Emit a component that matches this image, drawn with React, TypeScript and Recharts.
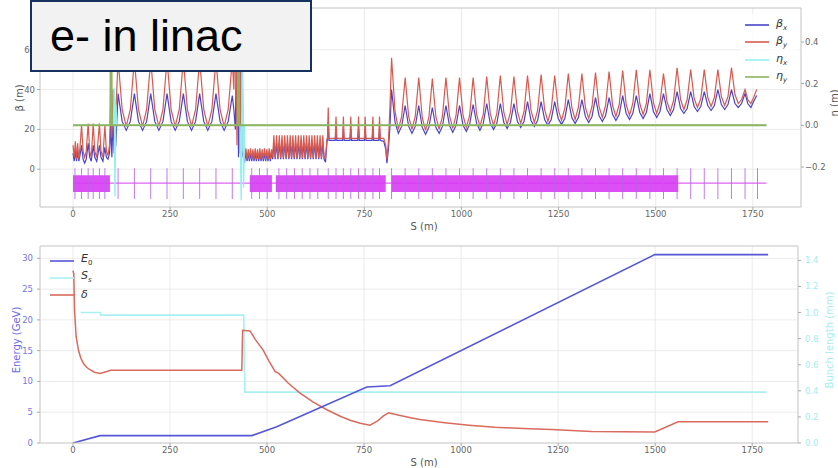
import React from 'react';
import { LineChart, Line, XAxis, YAxis, CartesianGrid, ReferenceArea, ReferenceLine, Legend } from 'recharts';

// ---------- axis ticks ----------
const sTicks = [0, 250, 500, 750, 1000, 1250, 1500, 1750];
const betaTicks = [0, 20, 40, 60];
const etaTicks = [-0.2, 0, 0.2, 0.4];
const energyTicks = [0, 5, 10, 15, 20, 25, 30];
const lengthTicks = [0, 0.2, 0.4, 0.6, 0.8, 1.0, 1.2, 1.4];

// ---------- top panel: beta functions [s (m), beta_x, beta_y] ----------
const betaRows: number[][] = [
  [0, 8, 12], [3, 4, 6], [6, 9, 14], [9, 4, 5], [12, 9, 13], [15, 4, 5], [18, 7, 11],
  [22, 12, 22], [26, 5, 9], [30, 3, 6], [34, 5, 9], [39, 13, 23], [43, 6, 9], [47, 4, 6],
  [52, 12, 23], [56, 6, 9], [61, 4, 6], [68, 12, 23], [72, 6, 9], [77, 4, 6], [82, 11, 22],
  [86, 6, 9], [90, 5, 7], [94, 8, 12], [97, 22, 34], [100, 6, 16], [103, 26, 40], [106, 8, 22],
  [110, 12, 28], [116, 38, 55],
  [126.5, 24, 30], [137, 19.5, 21.5], [147.5, 24, 30], [158, 38, 55],
  [168.5, 24, 30], [179, 19.5, 21.5], [189.5, 24, 30], [200, 38, 55],
  [210.5, 24, 30], [221, 19.5, 21.5], [231.5, 24, 30], [242, 38, 55],
  [252.5, 24, 30], [263, 19.5, 21.5], [273.5, 24, 30], [284, 38, 55],
  [294.5, 24, 30], [305, 19.5, 21.5], [315.5, 24, 30], [326, 38, 55],
  [336.5, 24, 30], [347, 19.5, 21.5], [357.5, 24, 30], [368, 38, 55],
  [378.5, 24, 30], [389, 19.5, 21.5], [399.5, 24, 30], [410, 37, 55],
  [414, 30, 40], [418, 20, 85], [422, 85, 12], [426, 6, 85], [430, 85, 8], [434, 10, 85],
  [438, 6, 10], [442, 4, 6],
  [445, 8, 10.5], [448, 4, 5], [451, 8, 10], [454, 4, 5], [457, 8, 10.5], [460, 4, 5],
  [463, 8, 10], [466, 4, 5], [469, 8, 10.5], [472, 4, 5], [475, 8, 10], [478, 4, 5],
  [481, 8, 10.5], [484, 4, 5], [487, 8, 10], [490, 4, 5], [493, 8, 10.5], [496, 4, 5],
  [499, 8, 10], [502, 4, 5], [505, 8, 10.5], [508, 4, 5], [511, 8, 10], [514, 5, 6],
  [517, 13, 17], [520.5, 5, 5.5], [524, 13, 17], [527.5, 5, 5.5], [531, 13, 17], [534.5, 5, 5.5],
  [538, 13, 17], [541.5, 5, 5.5], [545, 13, 17], [548.5, 5, 5.5], [552, 13, 17], [555.5, 5, 5.5],
  [559, 13, 17], [562.5, 5, 5.5], [566, 13, 17], [569.5, 5, 5.5], [573, 13, 17], [576.5, 5, 5.5],
  [580, 13, 17], [583.5, 5, 5.5], [587, 13, 17], [590.5, 5, 5.5], [594, 13, 17], [597.5, 5, 5.5],
  [601, 13, 17], [604.5, 5, 5.5], [608, 13, 17], [611.5, 5, 5.5], [615, 13, 17], [618.5, 5, 5.5],
  [622, 13, 17], [625.5, 5, 5.5], [629, 13, 17], [632.5, 5, 5.5], [636, 13, 17], [639.5, 5, 5.5],
  [643, 13, 17], [646.5, 5, 5.5], [650, 3.5, 6], [654, 14.5, 15.5],
  [655, 14.5, 15.5], [657, 24, 31], [659, 14.5, 15.5],
  [675, 14.5, 15.5], [677, 20, 26.5], [679, 14.5, 15.5],
  [694, 14.5, 15.5], [696, 20, 26.5], [698, 14.5, 15.5],
  [713, 14.5, 15.5], [715, 20, 26.5], [717, 14.5, 15.5],
  [733, 14.5, 15.5], [735, 20, 26.5], [737, 14.5, 15.5],
  [750, 14.5, 15.5], [752, 20, 26.5], [754, 14.5, 15.5],
  [770, 14.5, 15.5], [772, 20, 26.5], [774, 14.5, 15.5],
  [787, 14.5, 15.5], [789, 20, 26.5], [791, 14.5, 15.5],
  [800, 14, 15.5], [805, 10, 12], [808, 3, 5], [812, 10, 14], [816, 22, 32], [820, 40, 56],
  [829, 23.5, 29], [837.5, 18, 20], [846, 21.5, 26.5], [855, 32, 46],
  [864, 21.5, 26.5], [872.5, 18, 20], [881, 21.5, 26.5], [890, 32, 46],
  [899, 21, 26], [907.5, 17.5, 19.5], [916, 21, 26], [925, 31, 45.5],
  [934, 21, 26.5], [942.5, 18, 20], [951, 21.5, 26.5], [960, 32, 46],
  [969, 22, 27], [977.5, 18.5, 20.5], [986, 22, 27], [995, 32, 46],
  [1004, 22, 27], [1012.5, 19, 21], [1021, 22.5, 27], [1030, 32.5, 46],
  [1039, 23, 27.5], [1047.5, 19.5, 21.5], [1056, 23, 27.5], [1065, 33, 46.5],
  [1074, 23, 28], [1082.5, 20, 22], [1091, 23, 28], [1100, 33, 47],
  [1109, 23.5, 28.5], [1117.5, 20.5, 22.5], [1126, 23.5, 28.5], [1135, 33, 46.5],
  [1144, 24, 29], [1152.5, 21, 23], [1161, 24, 29], [1170, 34, 47],
  [1179, 24.5, 29.5], [1187.5, 21.5, 23.5], [1196, 24.5, 29.5], [1205, 34, 47.5],
  [1214, 25, 30], [1222.5, 22, 24], [1231, 25, 30], [1240, 34, 47],
  [1249, 25.5, 30], [1257.5, 22.5, 24.5], [1266, 25.5, 30.5], [1275, 35, 48],
  [1284, 26, 31], [1292.5, 23, 25], [1301, 26, 31], [1310, 35, 48],
  [1319, 26.5, 31], [1327.5, 23.5, 25.5], [1336, 26.5, 31.5], [1345, 36, 48.5],
  [1354, 27, 31.5], [1362.5, 24, 26], [1371, 27, 32], [1380, 36, 49],
  [1389, 27.5, 32], [1397.5, 24.5, 26.5], [1406, 27.5, 32.5], [1415, 37, 49.5],
  [1424, 28, 32.5], [1432.5, 25, 27], [1441, 28, 33], [1450, 37, 50],
  [1459, 28.5, 33], [1467.5, 25.5, 27.5], [1476, 28.5, 33], [1485, 38, 50],
  [1494, 29, 33.5], [1502.5, 26, 28], [1511, 29, 33.5], [1520, 38, 48],
  [1529, 30, 34], [1537.5, 27, 29], [1546, 30, 34.5], [1555, 39, 51],
  [1564, 30.5, 35], [1572.5, 28, 30], [1581, 30.5, 35], [1590, 39, 50],
  [1599, 31.5, 35.5], [1607.5, 29, 31], [1616, 31.5, 35.5], [1625, 39, 50],
  [1634, 32, 36], [1642.5, 29.5, 31.5], [1651, 32, 36], [1660, 40, 50],
  [1669, 32.5, 36.5], [1677.5, 30, 32], [1686, 32.5, 36.5], [1695, 40, 51],
  [1704, 33, 37.5], [1712.5, 31, 33], [1721, 33, 35], [1730, 38, 40],
  [1737, 33, 35], [1745, 31, 33], [1752, 34, 36], [1760, 37, 40],
];

// dispersion [s, eta]
const etaXRows: number[][] = [
  [0, 0], [104, 0], [106, 0.18], [108, -0.34], [110, 0.1], [113, 0],
  [430, 0], [433, -0.36], [436, 0.5], [439, -0.3], [442, 0], [1785, 0],
];
const etaYRows: number[][] = [
  [0, 0], [96, 0], [98, 0.62], [100, 0],
  [424, 0], [426, 0.62], [428, 0], [1785, 0],
];

// lattice elements
const latticeBlocks: number[][] = [[0, 95], [455, 512], [522, 805], [820, 1558]];
const quadPositions = [
  5, 22, 39, 52, 68, 82,
  116, 158, 200, 242, 284, 326, 368, 410,
  460, 480, 500, 530, 550, 570, 590, 610, 630,
  657, 677, 696, 715, 735, 752, 772, 789,
  820, 855, 890, 925, 960, 995, 1030, 1065, 1100, 1135, 1170, 1205, 1240, 1275,
  1310, 1345, 1380, 1415, 1450, 1485, 1520, 1555,
  1590, 1625, 1660, 1695, 1730, 1762,
];
const latticeSpan = [0, 1785];

// ---------- bottom panel ----------
const energyRows: number[][] = [
  [0, 0], [70, 1.2], [461, 1.2], [525, 2.65], [757, 9.1], [817, 9.3], [1499, 30.6], [1791, 30.6],
];
const lengthRows: number[][] = [
  [20, 1.0], [70, 1.0], [72, 0.98], [440, 0.98], [443, 0.39], [1786, 0.39],
];
const deltaRows: number[][] = [
  [0, 28], [2, 27.5], [4, 21.5], [8, 17.3], [14, 15.1], [20, 13.8], [27, 12.9], [35, 12.3],
  [44, 11.9], [55, 11.5], [70, 11.3], [87, 11.6], [97, 11.8], [435, 11.8], [437, 18.3],
  [456, 18.2], [470, 16.8], [490, 15.1], [505, 13.3], [521, 11.6], [530, 11.3], [555, 9.7],
  [585, 8.1], [620, 6.6], [654, 5.4], [690, 4.3], [714, 3.7], [740, 3.2], [765, 2.9],
  [785, 3.6], [800, 4.4], [813, 4.9], [840, 4.5], [870, 4.1], [894, 3.8], [958, 3.3],
  [1020, 2.9], [1087, 2.55], [1160, 2.35], [1233, 2.2], [1336, 1.85], [1499, 1.8],
  [1559, 3.46], [1791, 3.46],
];

const betaData = betaRows.map(([s, bx, by]) => ({ s, bx, by }));
const etaXData = etaXRows.map(([s, v]) => ({ s, v }));
const etaYData = etaYRows.map(([s, v]) => ({ s, v }));
const energyData = energyRows.map(([s, v]) => ({ s, v }));
const lengthData = lengthRows.map(([s, v]) => ({ s, v }));
const deltaData = deltaRows.map(([s, v]) => ({ s, v }));

// ---------- styles ----------
const FONT = '"DejaVu Sans", Verdana, sans-serif';
const BX = '#4a44c8';
const BY = '#d65a50';
const EX = '#93f0f0';
const EY = '#8fb35f';
const MAG = '#d83cf4';
const QUAD = '#b465e6';
const E0C = '#5656d8';
const SSC = '#a9f0f0';
const DC = '#da6a5e';
const GRID = '#e6e6e6';
const FRAME = '#cccccc';

const fmtSigned = (v: number) => (v < 0 ? '\u2212' + Math.abs(v).toFixed(1) : v.toFixed(1));

const topLegend = [
  { sym: '\u03b2', sub: 'x', color: BX },
  { sym: '\u03b2', sub: 'y', color: BY },
  { sym: '\u03b7', sub: 'x', color: EX },
  { sym: '\u03b7', sub: 'y', color: EY },
];
const bottomLegend = [
  { sym: 'E', sub: '0', color: E0C },
  { sym: 'S', sub: 's', color: SSC },
  { sym: '\u03b4', sub: '', color: DC },
];

type Item = { sym: string; sub: string; color: string };
const LegendBox = ({ items, gap, bg }: { items: Item[]; gap: number; bg: string }) => (
  <div style={{ background: bg, padding: '2px 3px', fontFamily: FONT }}>
    {items.map((it, i) => (
      <div key={i} style={{ display: 'flex', alignItems: 'center', height: gap }}>
        <svg width={26} height={6} style={{ marginRight: 6 }}>
          <line x1={1} y1={3} x2={25} y2={3} stroke={it.color} strokeWidth={1.6} />
        </svg>
        <span style={{ fontSize: 11, fontStyle: 'italic', color: '#333', lineHeight: 1 }}>
          {it.sym}
          {it.sub ? <sub style={{ fontSize: 7, fontStyle: it.sub === '0' ? 'normal' : 'italic' }}>{it.sub}</sub> : null}
        </span>
      </div>
    ))}
  </div>
);

const vLabel = (text: string, cx: number, cy: number, color: string, size = 10) => (
  <div
    style={{
      position: 'absolute', left: cx, top: cy, transform: 'translate(-50%, -50%) rotate(-90deg)',
      whiteSpace: 'nowrap', fontSize: size, color, fontFamily: FONT,
    }}
  >
    {text}
  </div>
);

const hLabel = (text: string, cx: number, cy: number, color: string, size = 10) => (
  <div
    style={{
      position: 'absolute', left: cx, top: cy, transform: 'translate(-50%, -50%)',
      whiteSpace: 'nowrap', fontSize: size, color, fontFamily: FONT,
    }}
  >
    {text}
  </div>
);

export default function App() {
  const tick = { fontSize: 8.5, fill: '#666' };
  return (
    <div style={{ position: 'absolute', left: 0, top: 0, width: 838, height: 468, background: '#fff', fontFamily: FONT, overflow: 'hidden' }}>
      {/* top panel */}
      <div style={{ position: 'absolute', left: 0, top: 0 }}>
        <LineChart width={838} height={238} margin={{ top: 8, right: 0, bottom: 0, left: 0 }}>
          <CartesianGrid yAxisId="beta" stroke={GRID} strokeWidth={0.8} />
          <XAxis dataKey="s" type="number" domain={[-85, 1874]} ticks={sTicks} allowDataOverflow height={31}
            tickSize={3} tickMargin={1} tick={tick} axisLine={{ stroke: FRAME }} tickLine={{ stroke: '#aaa' }} />
          <YAxis yAxisId="beta" domain={[-19, 81]} ticks={betaTicks} allowDataOverflow width={40}
            tickSize={3} tickMargin={2} tick={tick} axisLine={{ stroke: FRAME }} tickLine={{ stroke: '#aaa' }} />
          <YAxis yAxisId="eta" orientation="right" domain={[-0.392, 0.563]} ticks={etaTicks} allowDataOverflow width={37}
            tickSize={3} tickMargin={1} tick={tick} tickFormatter={fmtSigned} axisLine={{ stroke: FRAME }} tickLine={{ stroke: '#aaa' }} />
          <ReferenceLine yAxisId="beta" y={81} stroke={FRAME} />
          {latticeBlocks.map(([a, b], i) => (
            <ReferenceArea key={'blk' + i} yAxisId="beta" x1={a} x2={b} y1={-3} y2={-11.5} fill={MAG} fillOpacity={0.9} stroke="none" />
          ))}
          <ReferenceLine yAxisId="beta" segment={[{ x: latticeSpan[0], y: -7 }, { x: latticeSpan[1], y: -7 }]} stroke={MAG} strokeWidth={1} />
          {quadPositions.map((s, i) => (
            <ReferenceLine key={'q' + i} yAxisId="beta" segment={[{ x: s, y: 0.5 }, { x: s, y: -15 }]} stroke={QUAD} strokeWidth={1} strokeOpacity={0.85} />
          ))}
          <Line yAxisId="beta" data={betaData} dataKey="bx" type="linear" stroke={BX} strokeWidth={1.2} dot={false} activeDot={false} isAnimationActive={false} />
          <Line yAxisId="beta" data={betaData} dataKey="by" type="linear" stroke={BY} strokeWidth={1.2} dot={false} activeDot={false} isAnimationActive={false} />
          <Line yAxisId="eta" data={etaXData} dataKey="v" type="linear" stroke={EX} strokeWidth={1.4} dot={false} activeDot={false} isAnimationActive={false} />
          <Line yAxisId="eta" data={etaYData} dataKey="v" type="linear" stroke={EY} strokeWidth={2} dot={false} activeDot={false} isAnimationActive={false} />
          <Legend layout="vertical" align="center" verticalAlign="middle"
            wrapperStyle={{ left: 741, top: 14, width: 58 }}
            content={() => <LegendBox items={topLegend} gap={17.5} bg="rgba(255,255,255,0.8)" />} />
        </LineChart>
      </div>

      {/* bottom panel */}
      <div style={{ position: 'absolute', left: 0, top: 238 }}>
        <LineChart width={838} height={230} margin={{ top: 8, right: 0, bottom: 0, left: 0 }}>
          <CartesianGrid yAxisId="E" stroke={GRID} strokeWidth={0.8} />
          <XAxis dataKey="s" type="number" domain={[-85, 1868]} ticks={sTicks} allowDataOverflow height={25}
            tickSize={3} tickMargin={1} tick={tick} axisLine={{ stroke: FRAME }} tickLine={{ stroke: '#aaa' }} />
          <YAxis yAxisId="E" domain={[0, 32]} ticks={energyTicks} allowDataOverflow width={40}
            tickSize={3} tickMargin={4} tick={{ fontSize: 8.5, fill: '#7676e2' }} axisLine={{ stroke: FRAME }} tickLine={{ stroke: '#aaa' }} />
          <YAxis yAxisId="L" orientation="right" domain={[0, 1.51]} ticks={lengthTicks} allowDataOverflow width={40}
            tickSize={3} tickMargin={4} tick={{ fontSize: 8.5, fill: '#a6ecec' }} tickFormatter={(v: number) => v.toFixed(1)}
            axisLine={{ stroke: FRAME }} tickLine={{ stroke: '#aaa' }} />
          <ReferenceLine yAxisId="E" y={32} stroke={FRAME} />
          <Line yAxisId="L" data={lengthData} dataKey="v" type="linear" stroke={SSC} strokeWidth={1.6} dot={false} activeDot={false} isAnimationActive={false} />
          <Line yAxisId="E" data={deltaData} dataKey="v" type="linear" stroke={DC} strokeWidth={1.5} dot={false} activeDot={false} isAnimationActive={false} />
          <Line yAxisId="E" data={energyData} dataKey="v" type="linear" stroke={E0C} strokeWidth={1.6} dot={false} activeDot={false} isAnimationActive={false} />
          <Legend layout="vertical" align="center" verticalAlign="middle"
            wrapperStyle={{ left: 46, top: 12, width: 60 }}
            content={() => <LegendBox items={bottomLegend} gap={17} bg="transparent" />} />
        </LineChart>
      </div>

      {/* axis titles */}
      {vLabel('\u03b2 (m)', 19, 98, '#555')}
      {vLabel('\u03b7 (m)', 834, 103, '#555')}
      {hLabel('S (m)', 424, 226, '#555')}
      {vLabel('Energy (GeV)', 16, 340, '#6a6ae6')}
      {vLabel('Bunch length (mm)', 829, 340, '#a6eeee')}
      {hLabel('S (m)', 424, 462, '#555')}

      {/* title box */}
      <div
        style={{
          position: 'absolute', left: 30, top: 0, width: 260, height: 68, background: '#f2f2f2',
          border: '2px solid #15305f', fontFamily: '"Liberation Sans", Arial, sans-serif', fontSize: 45,
          color: '#000', lineHeight: '68px', paddingLeft: 18, boxSizing: 'content-box',
        }}
      >
        e- in linac
      </div>
    </div>
  );
}
